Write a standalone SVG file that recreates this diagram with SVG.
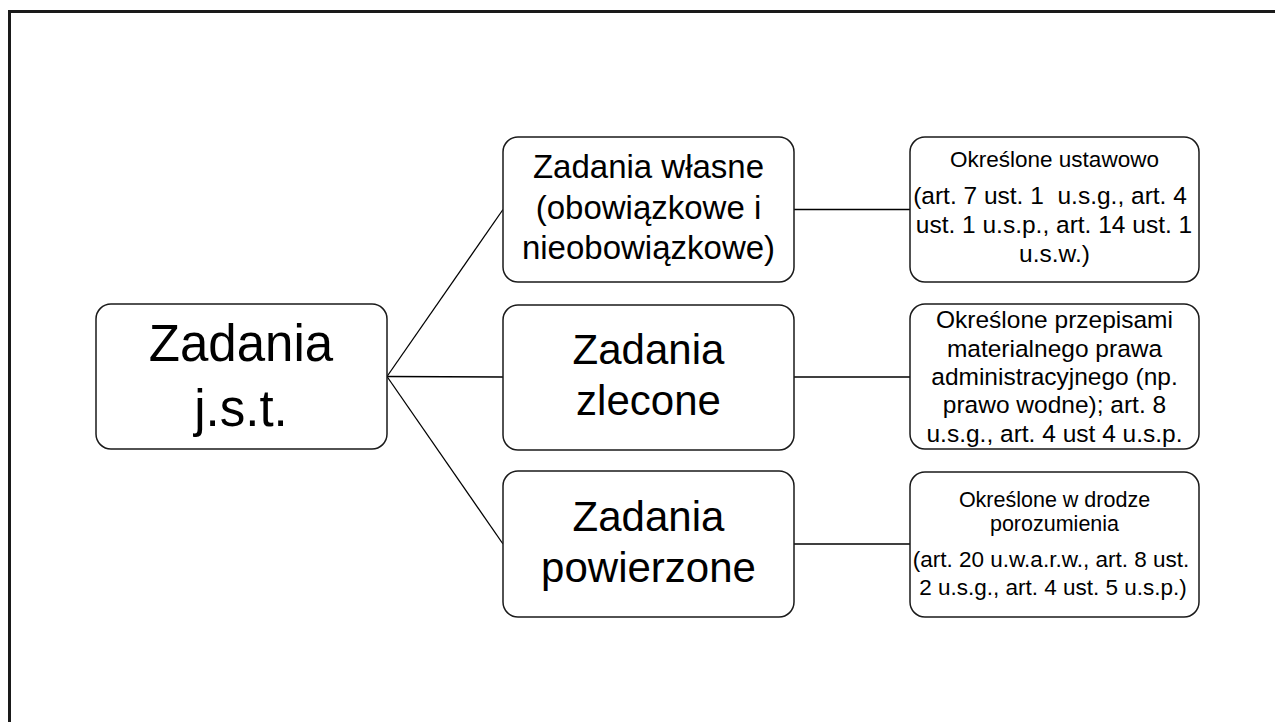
<svg xmlns="http://www.w3.org/2000/svg" width="1275" height="722" viewBox="0 0 1275 722">
<style>
.box{fill:#fff;stroke:#1a1a1a;stroke-width:1.5}
.t{font-family:"Liberation Sans",Arial,sans-serif;fill:#000;text-anchor:middle}
.conn line{stroke:#000;stroke-width:1.3}
</style>
<rect x="0" y="0" width="1275" height="722" fill="#fff"/>
<path d="M9.5 722 V11.5 H1275" fill="none" stroke="#1a1a1a" stroke-width="3"/>
<g id="connectors" class="conn">
<line x1="387" y1="376.5" x2="503" y2="209.5"/>
<line x1="387" y1="376.5" x2="503" y2="377"/>
<line x1="387" y1="376.5" x2="503" y2="544"/>
<line x1="794" y1="209.5" x2="910" y2="209.5"/>
<line x1="794" y1="377" x2="910" y2="377"/>
<line x1="794" y1="544" x2="910" y2="544"/>
</g>
<g id="node-root">
<rect class="box" x="96" y="304" width="291" height="145" rx="15"/>
<text class="t" font-size="51"><tspan x="241" y="361">Zadania</tspan><tspan x="241" y="426">j.s.t.</tspan></text>
</g>
<g id="node-wlasne">
<rect class="box" x="503" y="137" width="291" height="145" rx="15"/>
<text class="t" font-size="33"><tspan x="648.5" y="178">Zadania własne</tspan><tspan x="648.5" y="219">(obowiązkowe i</tspan><tspan x="648.5" y="259">nieobowiązkowe)</tspan></text>
</g>
<g id="node-zlecone">
<rect class="box" x="503" y="305" width="291" height="145" rx="15"/>
<text class="t" font-size="42"><tspan x="648.5" y="364">Zadania</tspan><tspan x="648.5" y="415">zlecone</tspan></text>
</g>
<g id="node-powierzone">
<rect class="box" x="503" y="471" width="291" height="146" rx="15"/>
<text class="t" font-size="42"><tspan x="648.5" y="531">Zadania</tspan><tspan x="648.5" y="582">powierzone</tspan></text>
</g>
<g id="node-ustawowo">
<rect class="box" x="910" y="137" width="289" height="145" rx="15"/>
<text class="t" font-size="22.5"><tspan x="1054.5" y="167">Określone ustawowo</tspan></text>
<text class="t" font-size="24.5" xml:space="preserve"><tspan x="1050" y="204">(art. 7 ust. 1  u.s.g., art. 4</tspan><tspan x="1054" y="233">ust. 1 u.s.p., art. 14 ust. 1</tspan><tspan x="1054.5" y="262">u.s.w.)</tspan></text>
</g>
<g id="node-przepisami">
<rect class="box" x="910" y="304" width="289" height="145" rx="15"/>
<text class="t" font-size="24.5"><tspan x="1054.5" y="328">Określone przepisami</tspan><tspan x="1054.5" y="357">materialnego prawa</tspan><tspan x="1054.5" y="385">administracyjnego (np.</tspan><tspan x="1054.5" y="413">prawo wodne); art. 8</tspan><tspan x="1054.5" y="442">u.s.g., art. 4 ust 4 u.s.p.</tspan></text>
</g>
<g id="node-porozumienia">
<rect class="box" x="910" y="472" width="289" height="145" rx="15"/>
<text class="t" font-size="21.5"><tspan x="1054.5" y="507">Określone w drodze</tspan><tspan x="1054.5" y="531">porozumienia</tspan></text>
<text class="t" font-size="22.5"><tspan x="1051" y="567">(art. 20 u.w.a.r.w., art. 8 ust.</tspan><tspan x="1053" y="595">2 u.s.g., art. 4 ust. 5 u.s.p.)</tspan></text>
</g>
</svg>
